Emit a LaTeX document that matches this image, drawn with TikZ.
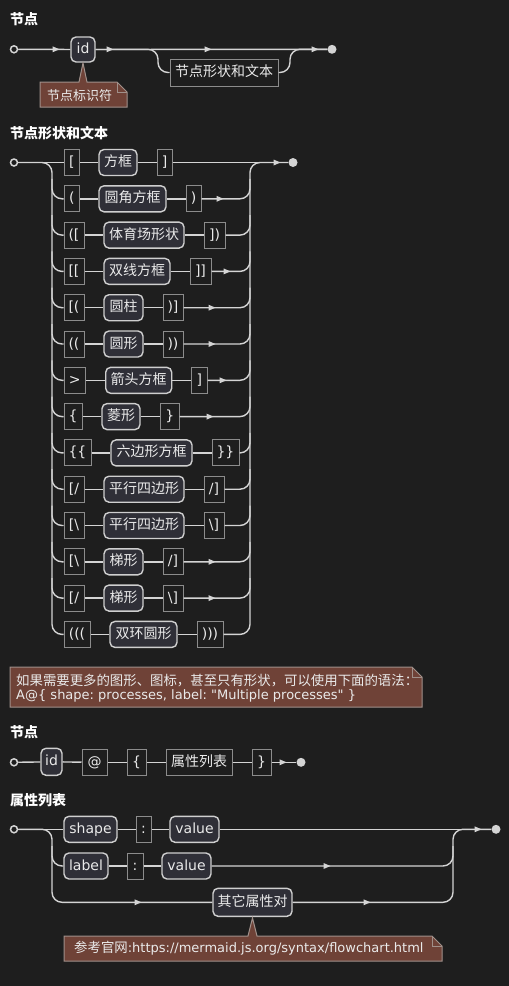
\documentclass[tikz,border=0pt]{standalone}
\usepackage{fontspec}
\setmainfont{DejaVu Sans}[Ligatures=TeXOff]
\newfontfamily\cjk{Noto Sans CJK SC}
\usetikzlibrary{calc}
\frenchspacing
\definecolor{bg}{HTML}{1E1E1E}
\definecolor{linec}{HTML}{D4D4D4}
\definecolor{ntfill}{HTML}{2F2F37}
\definecolor{ntdraw}{HTML}{CFCFCF}
\definecolor{tmdraw}{HTML}{8C8C8C}
\definecolor{txt}{HTML}{EAEAEA}
\definecolor{notefill}{HTML}{6F4237}
\definecolor{notedraw}{HTML}{A0908A}
\tikzset{
  ln/.style={draw=linec, line width=1.4pt},
  rl/.style={ln, rounded corners=10pt},
  boxfont/.style={text=txt, font=\fontsize{14}{16}\selectfont, text height=10.5pt, text depth=2.5pt, inner sep=0pt, minimum height=26pt},
  ntbox/.style={boxfont, draw=ntdraw, fill=ntfill, line width=1.4pt, rounded corners=5pt},
  tmbox/.style={boxfont, draw=tmdraw, line width=1pt},
  startc/.style={circle, draw=linec, fill=bg, line width=1.5pt, minimum size=7pt, inner sep=0pt},
  endc/.style={circle, fill=linec, minimum size=9pt, inner sep=0pt},
  ttl/.style={anchor=base west, inner sep=0pt, text=white, font=\cjk\bfseries\fontsize{14}{16}\selectfont},
  notetxt/.style={anchor=base west, inner sep=0pt, text=txt, font=\fontsize{13}{15}\selectfont},
  notebox/.style={fill=notefill, draw=notedraw, line width=1pt},
  foldln/.style={draw=notedraw, line width=1pt},
}
\newcommand\arr[2]{\fill[linec] (#1-3.5,#2-3) -- (#1+3.5,#2) -- (#1-3.5,#2+3) -- cycle;}
\begin{document}
\begin{tikzpicture}[x=1pt,y=-1pt]
\fill[bg] (0,0) rectangle (509,986);
\useasboundingbox (0,0) rectangle (509,986);

% ---------- Section 1 ----------
\node[ttl] (t1) at (10,24) {节点};
\node[startc] (s1) at (14,49.3) {};
\node[ntbox, minimum width=24pt, minimum height=25pt] (id1) at (83,49.5) {id};
\node[tmbox, minimum width=108pt, minimum height=27pt] (sh1) at (224,72.5) {\cjk 节点形状和文本};
\node[endc] (e1) at (332,49.3) {};
\coordinate (b1l) at (158,49.3);
\coordinate (b1r) at (290,49.3);
\draw[ln] (s1) -- (id1);
\draw[ln] (id1) -- (e1);
\draw[rl] (id1.east) -- (b1l) -- (b1l |- sh1.west) -- (sh1.west);
\draw[rl] (sh1.east) -- (b1r |- sh1.east) -- (b1r) -- (e1.west);
\arr{56}{49.3}\arr{110}{49.3}\arr{208}{49.3}\arr{315}{49.3}
\draw[notebox] (40,82) -- (79,82) -- (83,63) -- (87,82) -- (117,82) -- (127,92) -- (127,107) -- (40,107) -- cycle;
\draw[foldln] (117,82) -- (117,92) -- (127,92);
\node[notetxt, font=\cjk\fontsize{13}{15}\selectfont] (n1) at (47,100.5) {节点标识符};

% ---------- Section 2 ----------
\node[ttl] (t2) at (10,138) {节点形状和文本};
\node[startc] (s2) at (14,162.5) {};
\node[endc] (e2) at (293,162.5) {};
\coordinate (L2) at (52,162.5);
\coordinate (R2) at (250,162.5);

\node[tmbox, minimum width=15.5pt] (a1) at (71.75,162.5) {[};
\node[ntbox, minimum width=38pt] (b1) at (118,162.5) {\cjk 方框};
\node[tmbox, minimum width=15pt] (c1) at (164.5,162.5) {]};

\node[tmbox, minimum width=15.5pt] (a2) at (71.75,198.8) {(};
\node[ntbox, minimum width=67pt] (b2) at (132.5,198.8) {\cjk 圆角方框};
\node[tmbox, minimum width=15pt] (c2) at (193.5,198.8) {)};

\node[tmbox, minimum width=20pt] (a3) at (74,235.1) {([};
\node[ntbox, minimum width=80pt] (b3) at (144,235.1) {\cjk 体育场形状};
\node[tmbox, minimum width=21pt] (c3) at (214.5,235.1) {])};

\node[tmbox, minimum width=20pt] (a4) at (74,271.4) {[[};
\node[ntbox, minimum width=66pt] (b4) at (137,271.4) {\cjk 双线方框};
\node[tmbox, minimum width=21pt] (c4) at (200.5,271.4) {]]};

\node[tmbox, minimum width=20pt] (a5) at (74,307.7) {[(};
\node[ntbox, minimum width=39pt] (b5) at (123.5,307.7) {\cjk 圆柱};
\node[tmbox, minimum width=20pt] (c5) at (173,307.7) {)]};

\node[tmbox, minimum width=20pt] (a6) at (74,344) {((};
\node[ntbox, minimum width=39pt] (b6) at (123.5,344) {\cjk 圆形};
\node[tmbox, minimum width=20pt] (c6) at (173,344) {))};

\node[tmbox, minimum width=21.5pt] (a7) at (74.75,380.3) {>};
\node[ntbox, minimum width=66pt] (b7) at (138.7,380.3) {\cjk 箭头方框};
\node[tmbox, minimum width=15.3pt] (c7) at (199.35,380.3) {]};

\node[tmbox, minimum width=18pt] (a8) at (73,416.6) {\{};
\node[ntbox, minimum width=38pt] (b8) at (121,416.6) {\cjk 菱形};
\node[tmbox, minimum width=18.3pt] (c8) at (169.85,416.6) {\}};

\node[tmbox, minimum width=27pt] (a9) at (77.5,452.9) {\{\{};
\node[ntbox, minimum width=81pt] (b9) at (151.5,452.9) {\cjk 六边形方框};
\node[tmbox, minimum width=27pt] (c9) at (225.5,452.9) {\}\}};

\node[tmbox, minimum width=20pt] (a10) at (74,489.2) {[/};
\node[ntbox, minimum width=80pt] (b10) at (144,489.2) {\cjk 平行四边形};
\node[tmbox, minimum width=20pt] (c10) at (214,489.2) {/]};

\node[tmbox, minimum width=20pt] (a11) at (74,525.5) {[\textbackslash};
\node[ntbox, minimum width=80pt] (b11) at (144,525.5) {\cjk 平行四边形};
\node[tmbox, minimum width=20pt] (c11) at (214,525.5) {\textbackslash]};

\node[tmbox, minimum width=20pt] (a12) at (74,561.8) {[\textbackslash};
\node[ntbox, minimum width=39pt] (b12) at (123.5,561.8) {\cjk 梯形};
\node[tmbox, minimum width=20pt] (c12) at (173,561.8) {/]};

\node[tmbox, minimum width=20pt] (a13) at (74,598.1) {[/};
\node[ntbox, minimum width=39pt] (b13) at (123.5,598.1) {\cjk 梯形};
\node[tmbox, minimum width=20pt] (c13) at (173,598.1) {\textbackslash]};

\node[tmbox, minimum width=26pt] (a14) at (77,634.4) {(((};
\node[ntbox, minimum width=67pt] (b14) at (143.5,634.4) {\cjk 双环圆形};
\node[tmbox, minimum width=26pt] (c14) at (210,634.4) {)))};

\draw[ln] (s2) -- (a1);
\draw[ln] (c1) -- (e2);
\foreach \i in {1,...,14} {
  \draw[ln] (a\i) -- (b\i);
  \draw[ln] (b\i) -- (c\i);
}
\draw[rl] (s2.east) -- (L2) -- (L2 |- a14.west) -- (a14.west);
\draw[rl] (c14.east) -- (R2 |- c14.east) -- (R2) -- (e2.west);
\foreach \i in {2,...,13} {
  \draw[rl] ($(L2 |- a\i.west)+(0,-20)$) -- (L2 |- a\i.west) -- (a\i.west);
  \draw[rl] (c\i.east) -- (R2 |- c\i.east) -- ($(R2 |- c\i.east)+(0,-20)$);
}
\arr{277}{162.5}
\arr{220}{198.8}\arr{227}{271.4}\arr{212}{307.7}\arr{212}{344}
\arr{223}{380.3}\arr{210}{416.6}\arr{212}{561.8}\arr{212}{598.1}

% ---------- Note ----------
\draw[notebox] (10,667) -- (412,667) -- (422,677) -- (422,707) -- (10,707) -- cycle;
\draw[foldln] (412,667) -- (412,677) -- (422,677);
\node[notetxt, font=\cjk\fontsize{13.4}{15}\selectfont] (n2a) at (16,685) {如果需要更多的图形、图标，甚至只有形状，可以使用下面的语法：};
\node[notetxt] (n2b) at (16,699.5) {A@\{ shape: processes, label: "Multiple processes" \}};

% ---------- Section 3 ----------
\node[ttl] (t3) at (10,737) {节点};
\node[startc] (s3) at (14,762.3) {};
\node[ntbox, minimum width=21pt, minimum height=27pt] (id3) at (51.5,761.8) {id};
\node[tmbox, minimum width=25pt] (at3) at (94.5,762.3) {@};
\node[tmbox, minimum width=19pt] (lb3) at (136.5,762.3) {\{};
\node[tmbox, minimum width=66pt] (pl3) at (199,762.3) {\cjk 属性列表};
\node[tmbox, minimum width=19pt] (rb3) at (261.5,762.3) {\}};
\node[endc] (e3) at (301,762.3) {};
\draw[ln] (s3) -- (id3);
\draw[ln] (id3) -- (at3);
\draw[ln] (at3) -- (lb3);
\draw[ln] (lb3) -- (pl3);
\draw[ln] (pl3) -- (rb3);
\draw[ln] (rb3) -- (e3);
\arr{283}{762.3}

% ---------- Section 4 ----------
\node[ttl] (t4) at (10,805) {属性列表};
\node[startc] (s4) at (14,829.3) {};
\node[ntbox, minimum width=53pt] (shp) at (90.5,829.3) {shape};
\node[tmbox, minimum width=15pt] (col1) at (143.5,829.3) {:};
\node[ntbox, minimum width=49pt] (val1) at (194.5,829.3) {value};
\node[endc] (e4) at (496,829.3) {};
\node[ntbox, minimum width=44pt] (lab) at (86,866) {label};
\node[tmbox, minimum width=16pt] (col2) at (135,866) {:};
\node[ntbox, minimum width=49pt] (val2) at (186.5,866) {value};
\node[ntbox, minimum width=79pt, minimum height=28pt] (oth) at (252.5,902.3) {\cjk 其它属性对};
\coordinate (L4) at (52,829.3);
\coordinate (R4) at (453,829.3);
\draw[ln] (s4) -- (shp);
\draw[ln] (shp) -- (col1);
\draw[ln] (col1) -- (val1);
\draw[ln] (val1) -- (e4);
\draw[ln] (lab) -- (col2);
\draw[ln] (col2) -- (val2);
\draw[rl] (s4.east) -- (L4) -- (L4 |- oth.west) -- (oth.west);
\draw[rl] ($(L4 |- lab.west)+(0,-20)$) -- (L4 |- lab.west) -- (lab.west);
\draw[rl] (oth.east) -- (R4 |- oth.east) -- (R4) -- (e4.west);
\draw[rl] (val2.east) -- (R4 |- val2.east) -- ($(R4 |- val2.east)+(0,-20)$);
\arr{478}{829.3}\arr{327}{866}\arr{138}{902.3}\arr{367}{902.3}

\draw[notebox] (64,936) -- (248,936) -- (252.5,918) -- (257,936) -- (432,936) -- (442,946) -- (442,961) -- (64,961) -- cycle;
\draw[foldln] (432,936) -- (432,946) -- (442,946);
\node[notetxt] (n4) at (74,952.5) {{\cjk\fontsize{13.4}{15}\selectfont 参考官网}:https://mermaid.js.org/syntax/flowchart.html};
\end{tikzpicture}
\end{document}
